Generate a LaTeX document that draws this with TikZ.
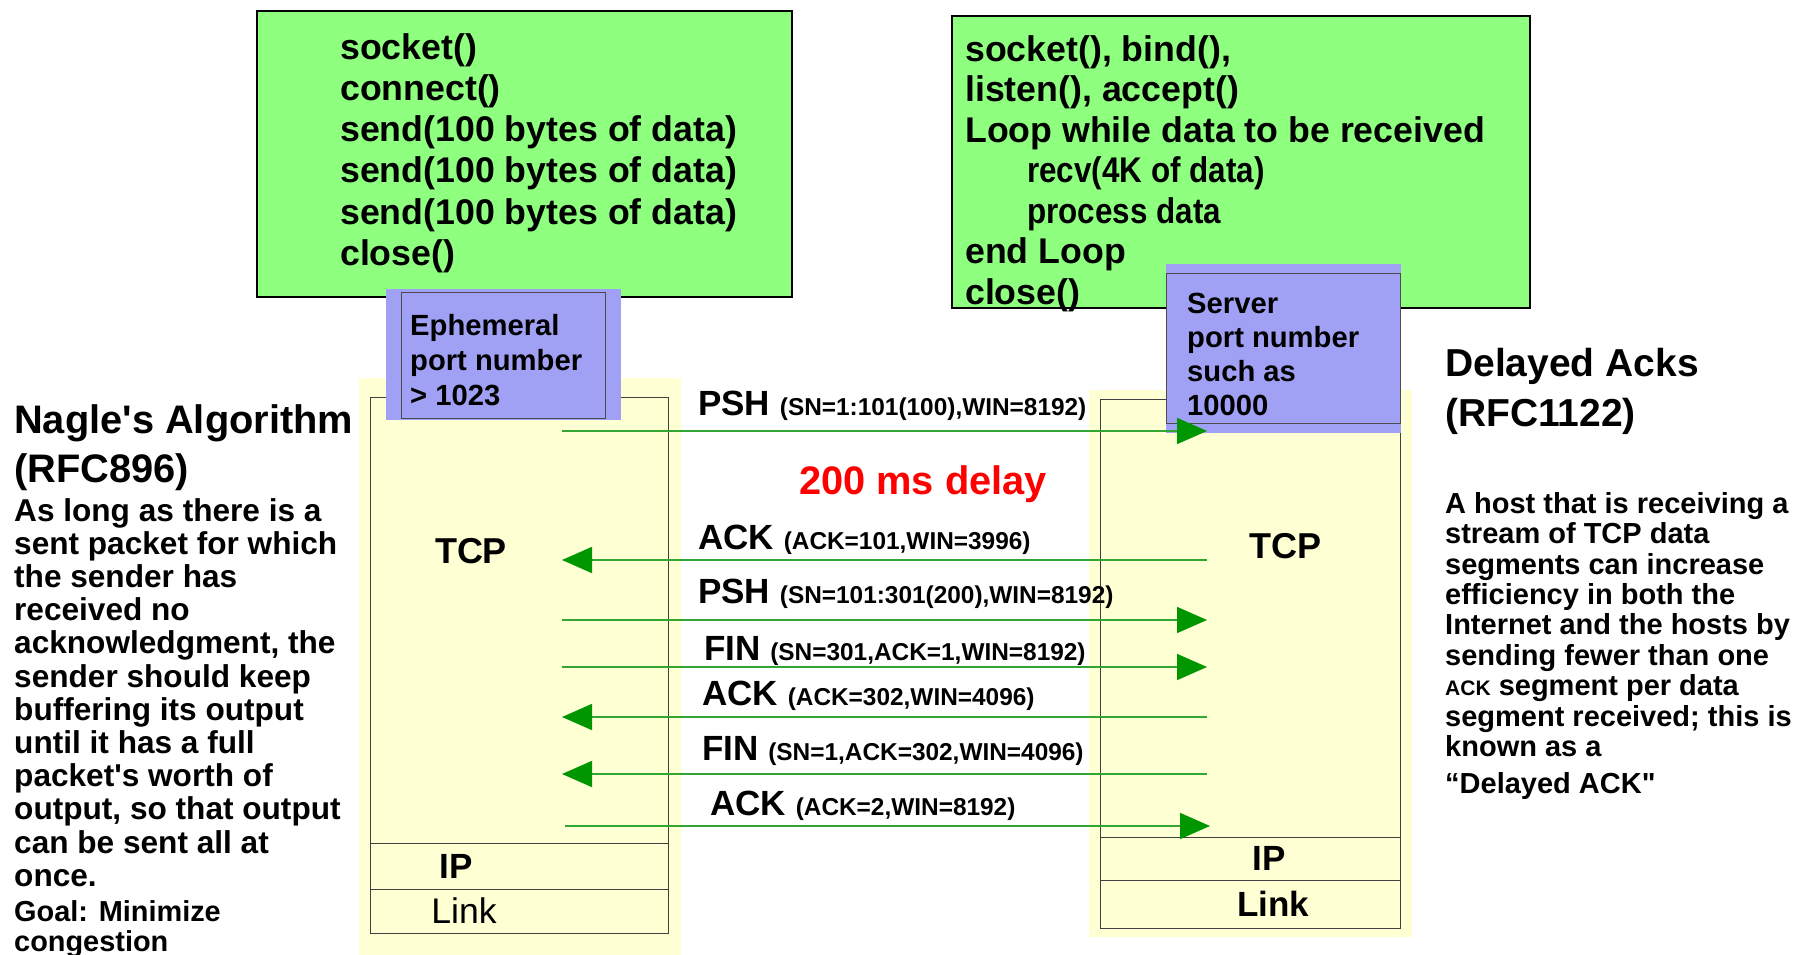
\documentclass[tikz,border=0pt]{standalone}
\usepackage{fontspec}
\setmainfont{Liberation Sans}
\newfontfamily\narrowsf[FakeStretch=0.88]{Liberation Sans}
\usetikzlibrary{arrows.meta}

\definecolor{codegreen}{RGB}{143,255,128}
\definecolor{portblue}{RGB}{160,160,245}
\definecolor{stackyellow}{RGB}{255,255,212}
\definecolor{msghead}{RGB}{0,150,0}
\definecolor{msgline}{RGB}{50,165,50}

\newcommand{\fsz}[2]{\fontsize{#1}{#2}\selectfont}

\begin{document}
\begin{tikzpicture}[x=1pt, y=-1pt,
    every node/.style={inner sep=0pt},
    codebox/.style={draw=black, line width=1.5pt, fill=codegreen},
    portbox/.style={draw=black!70, line width=1pt},
    layer/.style={draw=black!75, line width=1pt},
    msg/.style={draw=msgline, line width=1.7pt,
        -{Triangle[length=30pt, width=26pt, color=msghead]}},
    msglabel/.style={anchor=base west, font=\bfseries\fsz{35}{40}},
    para/.style={anchor=north west, align=left}]
    \useasboundingbox (0,0) rectangle (1797,955);

    % application code, client and server
    \draw[codebox] (257,11) rectangle (792,297);
    \node[para, font=\bfseries\fsz{35.7}{41.3}] (client) at (340,33)
        {socket()\\connect()\\send(100 bytes of data)\\send(100 bytes of data)\\send(100 bytes of data)\\close()};
    \draw[codebox] (952,16) rectangle (1530,308);
    \node[para, font=\bfseries\fsz{35.7}{40.5}] (server) at (965,35)
        {socket(), bind(),\\listen(), accept()\\Loop while data to be received\\
         \hspace*{62pt}{\narrowsf\bfseries recv(4K of data)}\\
         \hspace*{62pt}{\narrowsf\bfseries process data}\\end Loop\\close()};

    % protocol stacks
    \fill[stackyellow] (359,378) rectangle (681,955);
    \fill[stackyellow] (1089,390) rectangle (1412,937);
    \draw[layer] (370,397) rectangle (668,933);
    \draw[layer] (370,843) -- (668,843);
    \draw[layer] (370,889) -- (668,889);
    \draw[layer] (1100,399) rectangle (1400,928);
    \draw[layer] (1100,837) -- (1400,837);
    \draw[layer] (1100,880) -- (1400,880);
    \node[font=\bfseries\fsz{36}{40}] (tcpL) at (471,551) {TCP};
    \node[font=\bfseries\fsz{35}{40}] (ipL) at (456,866) {IP};
    \node[font=\fsz{35.6}{40}] (linkL) at (464,911) {Link};
    \node[font=\bfseries\fsz{36}{40}] (tcpR) at (1285,546) {TCP};
    \node[font=\bfseries\fsz{35}{40}] (ipR) at (1269,858) {IP};
    \node[font=\bfseries\fsz{35}{40}] (linkR) at (1273,904) {Link};

    % port numbers
    \fill[portblue] (386,289) rectangle (621,420);
    \draw[portbox] (401,292) rectangle (605,418);
    \node[para, font=\bfseries\fsz{29.2}{35}] (ephemeral) at (410,314)
        {Ephemeral\\port number\\> 1023};
    \fill[portblue] (1166,264) rectangle (1401,433);
    \draw[portbox] (1166,273) rectangle (1400,423);
    \node[para, font=\bfseries\fsz{29.2}{34}] (serverport) at (1187,293)
        {Server\\port number\\such as\\10000};

    % segments
    \coordinate (c1) at (562,431); \coordinate (s1) at (1207,431);
    \coordinate (c2) at (562,560); \coordinate (s2) at (1207,560);
    \coordinate (c3) at (562,620); \coordinate (s3) at (1207,620);
    \coordinate (c4) at (562,667); \coordinate (s4) at (1207,667);
    \coordinate (c5) at (562,717); \coordinate (s5) at (1207,717);
    \coordinate (c6) at (562,774); \coordinate (s6) at (1207,774);
    \coordinate (c7) at (565,826); \coordinate (s7) at (1210,826);
    \draw[msg] (c1) -- (s1);
    \draw[msg] (s2) -- (c2);
    \draw[msg] (c3) -- (s3);
    \draw[msg] (c4) -- (s4);
    \draw[msg] (s5) -- (c5);
    \draw[msg] (s6) -- (c6);
    \draw[msg] (c7) -- (s7);
    \node[msglabel] (psh1) at (698,415) {PSH \fsz{24.4}{30}(SN=1:101(100),WIN=8192)};
    \node[anchor=base, font=\bfseries\fsz{39.8}{44}, text=red] (delay) at (923,494) {200 ms delay};
    \node[msglabel] (ack1) at (698,549) {ACK \fsz{24.4}{30}(ACK=101,WIN=3996)};
    \node[msglabel] (psh2) at (698,603) {PSH \fsz{24.4}{30}(SN=101:301(200),WIN=8192)};
    \node[msglabel] (fin1) at (704,660) {FIN \fsz{24.4}{30}(SN=301,ACK=1,WIN=8192)};
    \node[msglabel] (ack2) at (702,705) {ACK \fsz{24.4}{30}(ACK=302,WIN=4096)};
    \node[msglabel] (fin2) at (702,760) {FIN \fsz{24.4}{30}(SN=1,ACK=302,WIN=4096)};
    \node[msglabel] (ack3) at (710,815) {ACK \fsz{24.4}{30}(ACK=2,WIN=8192)};

    % Nagle, sender side
    \node[para, font=\bfseries\fsz{39.8}{49}] (nagle) at (14,404)
        {Nagle\textquotesingle s Algorithm\\(RFC896)};
    \node[para, font=\bfseries\fsz{31.6}{33.2}] (nagletext) at (14,498)
        {As long as there is a\\sent packet for which\\the sender has\\received no\\
         acknowledgment, the\\sender should keep\\buffering its output\\until it has a full\\
         packet\textquotesingle s worth of\\output, so that output\\can be sent all at\\once.};
    \node[para, font=\bfseries\fsz{28.9}{30}] (goal) at (14,900)
        {Goal: Minimize\\congestion};

    % delayed acks, receiver side
    \node[para, font=\bfseries\fsz{39}{50}] (delack) at (1445,348)
        {Delayed Acks\\(RFC1122)};
    \node[para, font=\bfseries\fsz{29}{30.4}] (delacktext) at (1445,492)
        {A host that is receiving a\\stream of TCP data\\segments can increase\\efficiency in both the\\
         Internet and the hosts by\\sending fewer than one\\{\fsz{21}{30.4}ACK} segment per data\\
         segment received; this is\\known as a};
    \node[para, font=\bfseries\fsz{29}{30.4}] (delackname) at (1445,772)
        {“Delayed ACK\textquotedbl};
\end{tikzpicture}
\end{document}
